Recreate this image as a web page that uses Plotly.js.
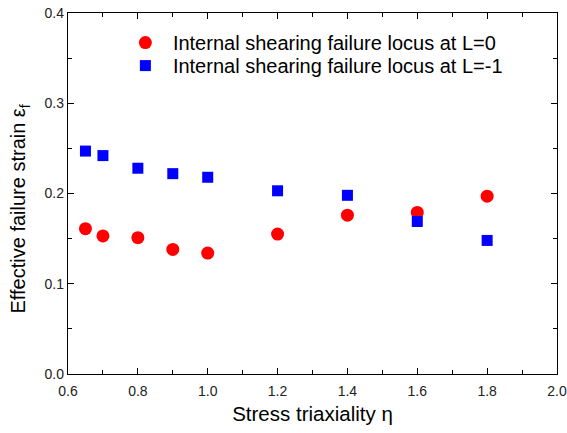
<!DOCTYPE html>
<html><head><meta charset="utf-8">
<script src="https://cdn.plot.ly/plotly-3.0.1.min.js"></script>
<style>body{margin:0;padding:0;background:#fff}#chart{width:567px;height:433px}</style>
</head><body><div id="chart"></div>
<script>
const triaxiality = [0.65, 0.7, 0.8, 0.9, 1.0, 1.2, 1.4, 1.6, 1.8];
const strainL0 = [0.161, 0.153, 0.151, 0.138, 0.134, 0.155, 0.176, 0.179, 0.197];
const strainLm1 = [0.247, 0.242, 0.228, 0.222, 0.218, 0.203, 0.198, 0.169, 0.148];
const seriesNames = ["Internal shearing failure locus at L=0", "Internal shearing failure locus at L=-1"];
const xTitle = "Stress triaxiality η";
const yTitle = "Effective failure strain ε<sub>f</sub>";

const font = "Liberation Sans, Arial, sans-serif";
const traces = [
  {x: triaxiality, y: strainL0, name: seriesNames[0], type: "scatter", mode: "markers", legend: "legend",
   marker: {symbol: "circle", size: 13, color: "#ff0000"}},
  {x: triaxiality, y: strainLm1, name: seriesNames[1], type: "scatter", mode: "markers", legend: "legend2",
   marker: {symbol: "square", size: 11, color: "#0000ff"}}
];
const axisCommon = {
  showline: true, linecolor: "#000", linewidth: 1.2, mirror: "ticks",
  ticks: "inside", ticklen: 6, tickcolor: "#000", tickwidth: 1, showgrid: false, zeroline: false,
  tickfont: {family: font, size: 14, color: "#222"}
};
const legendCommon = {xanchor: "left", yanchor: "top", bgcolor: "rgba(0,0,0,0)",
  font: {family: font, size: 20, color: "#000"}, itemwidth: 45};
const layout = {
  width: 567, height: 433,
  margin: {l: 68, r: 10, t: 13, b: 59},
  paper_bgcolor: "#fff", plot_bgcolor: "#fff",
  showlegend: true,
  legend: Object.assign({x: 0.102, y: 0.972}, legendCommon),
  legend2: Object.assign({x: 0.102, y: 0.9083}, legendCommon),
  xaxis: Object.assign({}, axisCommon, {range: [0.6, 2.0], tick0: 0.6, dtick: 0.2,
    ticklabelstandoff: 4,
    minor: {ticks: "inside", ticklen: 4, tickcolor: "#000", dtick: 0.1},
    tickformat: ".1f",
    title: {text: xTitle, font: {family: font, size: 20.5, color: "#000"}, standoff: 8}}),
  yaxis: Object.assign({}, axisCommon, {range: [0, 0.4], dtick: 0.1, tickformat: ".1f",
    minor: {ticks: "inside", ticklen: 4, tickcolor: "#000", dtick: 0.05}}),
  annotations: [{text: yTitle, xref: "paper", yref: "paper", x: -0.0992, y: 0.457,
    xanchor: "center", yanchor: "middle", textangle: -90, showarrow: false,
    font: {family: font, size: 20, color: "#000"}}]
};
Plotly.newPlot("chart", traces, layout, {displayModeBar: false, staticPlot: true});
</script></body></html>
